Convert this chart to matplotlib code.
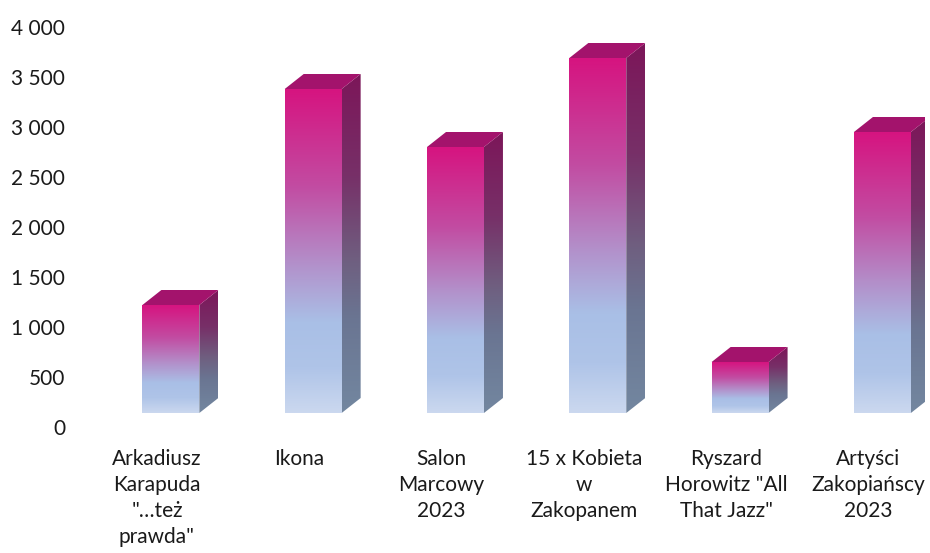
import numpy as np
import matplotlib
matplotlib.use("Agg")
import matplotlib.pyplot as plt
from matplotlib.colors import LinearSegmentedColormap
from matplotlib.patches import Polygon

plt.rcParams['font.family'] = ['Lato', 'DejaVu Sans']

categories = [
    'Arkadiusz\nKarapuda\n"…też\nprawda"',
    'Ikona',
    'Salon\nMarcowy\n2023',
    '15 x Kobieta\nw\nZakopanem',
    'Ryszard\nHorowitz "All\nThat Jazz"',
    'Artyści\nZakopiańscy\n2023',
]
values = [1080, 3240, 2660, 3550, 510, 2810]
y_ticks = [0, 500, 1000, 1500, 2000, 2500, 3000, 3500, 4000]

# 3d look: floor offset, bar width, depth
FLOOR = 140
SHIFT = 0.098
WIDTH = 0.40
DX = 0.1335
DY = 150

front_cmap = LinearSegmentedColormap.from_list("front", [
    (0.0, "#D61480"), (0.3, "#C24CA2"), (0.55, "#B293CC"),
    (0.72, "#A9BFE6"), (0.86, "#AFC4E8"), (1.0, "#CBD8EF")])
side_cmap = LinearSegmentedColormap.from_list("side", [
    (0.0, "#7C1659"), (0.3, "#773068"), (0.55, "#6F5F80"),
    (0.72, "#6A7592"), (1.0, "#7387A0")])
TOP_COLOR = "#A3136C"

grad = np.linspace(0, 1, 256).reshape(-1, 1)

fig = plt.figure(figsize=(9.3, 5.53), dpi=100)
ax = fig.add_axes([100 / 930, 126 / 553, 825.4 / 930, 400 / 553])

for i, v in enumerate(values):
    x0 = i + SHIFT - WIDTH / 2
    x1 = x0 + WIDTH
    y0 = FLOOR
    y1 = FLOOR + v
    # front face
    ax.imshow(grad, cmap=front_cmap, extent=(x0, x1, y0, y1),
              aspect='auto', origin='upper', zorder=2)
    # side face
    side = Polygon([(x1, y0), (x1 + DX, y0 + DY), (x1 + DX, y1 + DY), (x1, y1)],
                   closed=True, facecolor='none', edgecolor='none')
    ax.add_patch(side)
    im = ax.imshow(grad, cmap=side_cmap, extent=(x1, x1 + DX, y0, y1 + DY),
                   aspect='auto', origin='upper', zorder=2)
    im.set_clip_path(side)
    # top face
    ax.add_patch(Polygon([(x0, y1), (x0 + DX, y1 + DY), (x1 + DX, y1 + DY), (x1, y1)],
                         closed=True, facecolor=TOP_COLOR, edgecolor='none', zorder=3))

ax.set_xlim(-0.4, 5.4)
ax.set_ylim(0, 4000)
ax.set_yticks(y_ticks)
ax.set_yticklabels([f"{t:,}".replace(",", " ") for t in y_ticks])
ax.set_xticks(range(len(categories)))
ax.set_xticklabels(categories, linespacing=1.38)
ax.tick_params(axis='y', length=0, pad=25, labelsize=15, labelcolor='#1a1a1a')
ax.tick_params(axis='x', length=0, pad=16, labelsize=15, labelcolor='#1a1a1a')
for s in ax.spines.values():
    s.set_visible(False)

fig.savefig("out.png", dpi=100)
